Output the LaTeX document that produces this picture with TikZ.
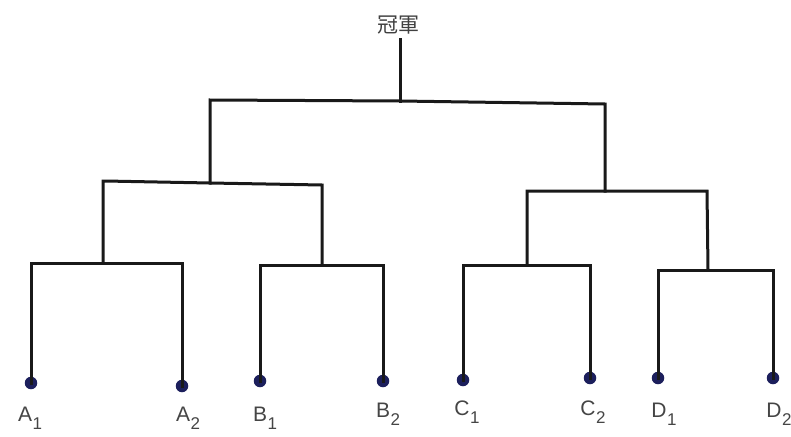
\documentclass[tikz,border=0pt]{standalone}
\usepackage{fontspec}
\setmainfont{Liberation Sans}
\newfontfamily\cjkfont{Noto Sans CJK TC}
\definecolor{dotcol}{HTML}{1C1F5C}
\definecolor{labcol}{HTML}{454545}
\newcommand{\lsub}[2]{#1\kern0.5pt\raisebox{-8pt}{\fontsize{17}{17}\selectfont #2}}
\begin{document}
\begin{tikzpicture}[x=1pt,y=-1pt,
  leaf/.style={circle,fill=dotcol,inner sep=0pt,minimum size=12.5pt},
  lab/.style={font=\fontsize{21}{21}\selectfont,text=labcol,inner sep=0pt},
  br/.style={line width=3pt,black!90,line cap=rect}]
\useasboundingbox (0,0) rectangle (791,436);
\fill[white] (0,0) rectangle (791,436);
% title
\node[font=\cjkfont\fontsize{21}{21}\selectfont,text=black!75,inner sep=0pt] (top) at (398,25) {冠軍};
% leaves
\node[leaf] (A1) at (31,383) {};
\node[leaf] (A2) at (182,386) {};
\node[leaf] (B1) at (260,381) {};
\node[leaf] (B2) at (383,381) {};
\node[leaf] (C1) at (463,380) {};
\node[leaf] (C2) at (590,378) {};
\node[leaf] (D1) at (658,378) {};
\node[leaf] (D2) at (773,378) {};
% labels
\node[lab] (lA1) at (30,418) {\lsub{A}{1}};
\node[lab] (lA2) at (188,418) {\lsub{A}{2}};
\node[lab] (lB1) at (265,418) {\lsub{B}{1}};
\node[lab] (lB2) at (388,414) {\lsub{B}{2}};
\node[lab] (lC1) at (467,412) {\lsub{C}{1}};
\node[lab] (lC2) at (593,412) {\lsub{C}{2}};
\node[lab] (lD1) at (664,414) {\lsub{D}{1}};
\node[lab] (lD2) at (779,414) {\lsub{D}{2}};
% junctions
\coordinate (jA) at (103,263);
\coordinate (jB) at (322,265);
\coordinate (jC) at (527,265);
\coordinate (jD) at (708,270);
\coordinate (jAB) at (210,183);
\coordinate (jCD) at (605,191);
\coordinate (jR) at (400,101);
\coordinate (jT) at (400,40);
% brackets
\draw[br] (A1.center) |- (jA) -| (A2.center);
\draw[br] (B1.center) |- (jB) -| (B2.center);
\draw[br] (C1.center) |- (jC) -| (C2.center);
\draw[br] (D1.center) |- (jD) -| (D2.center);
\draw[br] (jA) -- (jA |- 0,181) -- (105,181) -- (jAB) -- (322,185) -- (jB);
\draw[br] (jC) -- (527,191) -- (jCD) -- (707,191) -- (jD);
\draw[br] (jAB) -- (210,100) -- (jR) -- (605,104) -- (jCD);
\draw[br] (jR) -- (jT);
\end{tikzpicture}
\end{document}
